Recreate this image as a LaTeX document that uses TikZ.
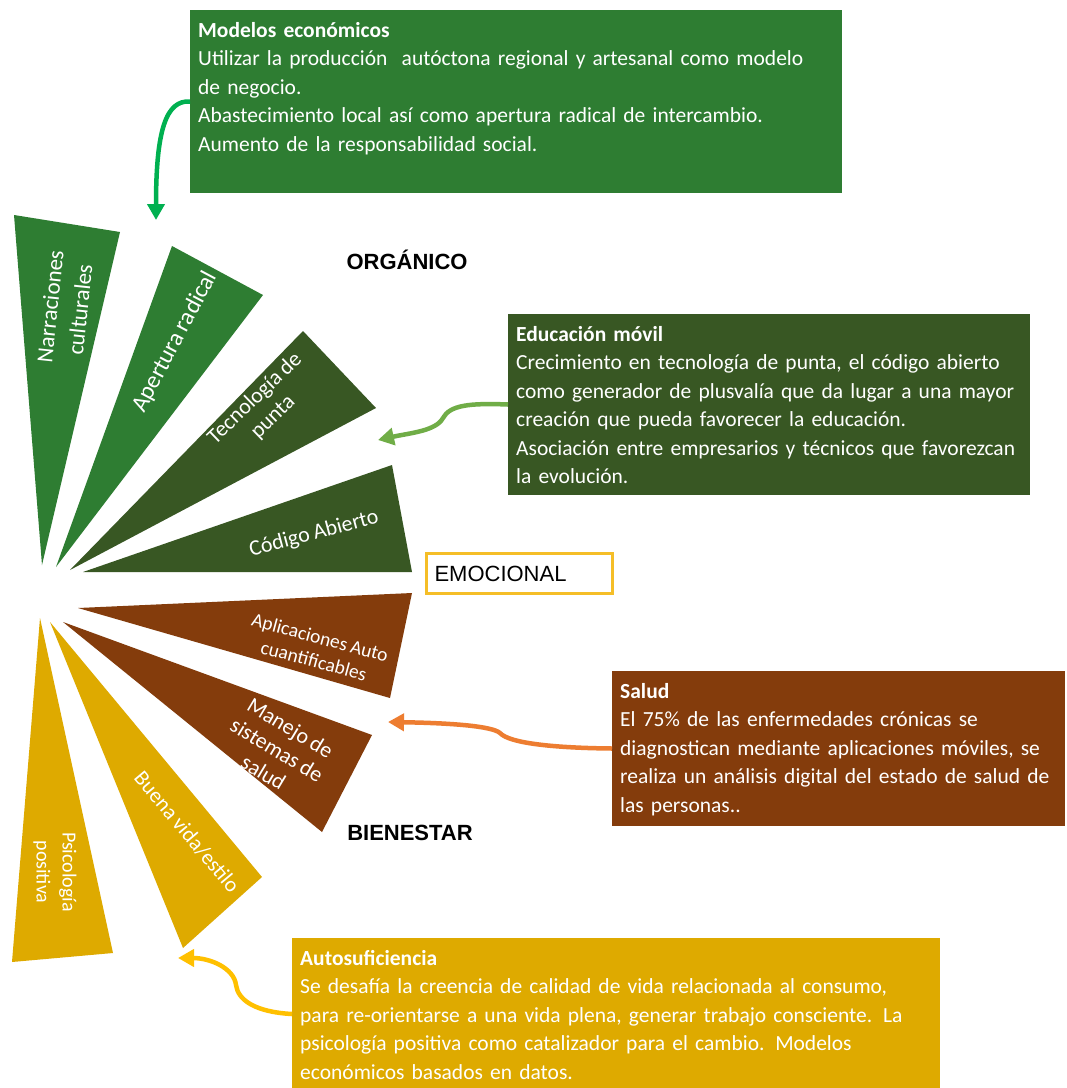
\documentclass[tikz,border=0pt]{standalone}
\usepackage{fontspec}
\setmainfont{Carlito}[WordSpace=0.85]
\newfontfamily\arialfont{Liberation Sans}
\usetikzlibrary{arrows.meta}

\definecolor{grnA}{RGB}{46,125,50}
\definecolor{grnD}{RGB}{56,87,35}
\definecolor{brn}{RGB}{132,60,12}
\definecolor{gld}{RGB}{222,170,0}
\definecolor{arrA}{RGB}{0,176,80}
\definecolor{arrB}{RGB}{112,173,71}
\definecolor{arrC}{RGB}{237,125,49}
\definecolor{arrD}{RGB}{255,192,0}
\definecolor{emo}{RGB}{245,190,40}

\tikzset{>={Triangle[length=16pt,width=17pt]}}
\tikzset{
  infobox/.style={anchor=base west, inner xsep=8pt, inner ysep=10pt, text height=17pt,
    align=left, text=white, font=\fontsize{21.5}{28.5}\selectfont},
  wedgetxt/.style={text=white, align=center, font=\fontsize{#1}{26}\selectfont},
  wedgetxt/.default=22,
  headtxt/.style={font=\arialfont\bfseries\fontsize{22}{26}\selectfont},
  bendarrow/.style={line width=4.5pt, ->}
}

\begin{document}
\begin{tikzpicture}[x=1pt, y=-1pt]
    \useasboundingbox (0,0) rectangle (1067,1088);
    \fill[white] (0,0) rectangle (1067,1088);

    % fan
    \fill[grnA] (42,565) -- (14,215) -- (120,232) -- cycle;
    \fill[grnA] (56,567) -- (172,246) -- (263,295) -- cycle;
    \fill[grnD] (70,570) -- (303,331) -- (376,408) -- cycle;
    \fill[grnD] (83,572) -- (392,465) -- (412,572) -- cycle;

    \fill[brn] (78,608) -- (412,593) -- (390,698) -- cycle;
    \fill[brn] (63,622) -- (372,735) -- (322,832) -- cycle;
    \fill[gld] (50,622) -- (262,877) -- (183,948) -- cycle;
    \fill[gld] (40,618) -- (113,953) -- (12,962) -- cycle;

    \node[wedgetxt, font=\fontsize{23}{30}\selectfont, rotate=84] (narr) at (65,308) {Narraciones\\culturales};
    \node[wedgetxt=24, rotate=62] (apert) at (175,342) {Apertura radical};
    \node[wedgetxt, rotate=44] (tecno) at (264,408) {Tecnología de\\punta};
    \node[wedgetxt, rotate=15] (codigo) at (314,534) {Código Abierto};
    \node[wedgetxt=19.5, font=\fontsize{19.5}{24}\selectfont, rotate=-15] (aplic) at (317,649) {Aplicaciones Auto\\cuantificables};
    \node[wedgetxt, rotate=-31] (manejo) at (277,750) {Manejo de\\sistemas de\\salud};
    \node[wedgetxt=21.5, rotate=-50] (buena) at (187,832) {Buena vida/estilo};
    \node[wedgetxt=20, rotate=-90] (psico) at (55,872) {Psicología\\positiva};

    \node[headtxt] (organico) at (407,260) {ORGÁNICO};
    \node[headtxt] (bienestar) at (410,833) {BIENESTAR};
    \node[draw=emo, line width=3pt, anchor=north west, text width=170pt, minimum height=40pt,
      inner sep=8pt, align=left, font=\arialfont\fontsize{22}{26}\selectfont] (emocional) at (425,552) {EMOCIONAL};

    % boxes
    \node[infobox, fill=grnA, text width=636pt, text depth=146pt] (modelos) at (190,37)
      {\textbf{Modelos económicos}\\
       Utilizar la producción\ \ autóctona regional y artesanal como modelo\\
       de negocio.\\
       Abastecimiento local así como apertura radical de intercambio.\\
       Aumento de la responsabilidad social.};
    \node[infobox, fill=grnD, text width=506pt, text depth=144pt] (educacion) at (508,341)
      {\textbf{Educación móvil}\\
       Crecimiento en tecnología de punta, el código abierto\\
       como generador de plusvalía que da lugar a una mayor\\
       creación que pueda favorecer la educación.\\
       Asociación entre empresarios y técnicos que favorezcan\\
       la evolución.};
    \node[infobox, fill=brn, text width=437pt, text depth=118pt] (salud) at (612,698)
      {\textbf{Salud}\\
       El 75\% de las enfermedades crónicas se\\
       diagnostican mediante aplicaciones móviles, se\\
       realiza un análisis digital del estado de salud de\\
       las personas..};
    \node[infobox, fill=gld, text width=632pt, text depth=115pt] (autosuf) at (292,965)
      {\textbf{Autosuficiencia}\\
       Se desafía la creencia de calidad de vida relacionada al consumo,\\
       para re-orientarse a una vida plena, generar trabajo consciente. La\\
       psicología positiva como catalizador para el cambio. Modelos\\
       económicos basados en datos.};

    % arrows
    \coordinate (tipA) at (156,220);
    \coordinate (tipB) at (378,440);
    \coordinate (tipC) at (388,722);
    \coordinate (tipD) at (178,958);

    \draw[bendarrow, arrA] (modelos.west) .. controls (166,100) and (156,130) .. (tipA);
    \draw[bendarrow, arrB] (educacion.west) .. controls (470,403) and (450,405) .. (443,418)
      .. controls (436,431) and (410,433) .. (tipB);
    \draw[bendarrow, arrC] (salud.west) .. controls (560,748) and (510,744) .. (500,733)
      .. controls (492,726) and (450,723) .. (tipC);
    \draw[bendarrow, arrD] (autosuf.west) .. controls (255,1012) and (238,1000) .. (236,985)
      .. controls (234,968) and (210,958) .. (tipD);

\end{tikzpicture}
\end{document}
